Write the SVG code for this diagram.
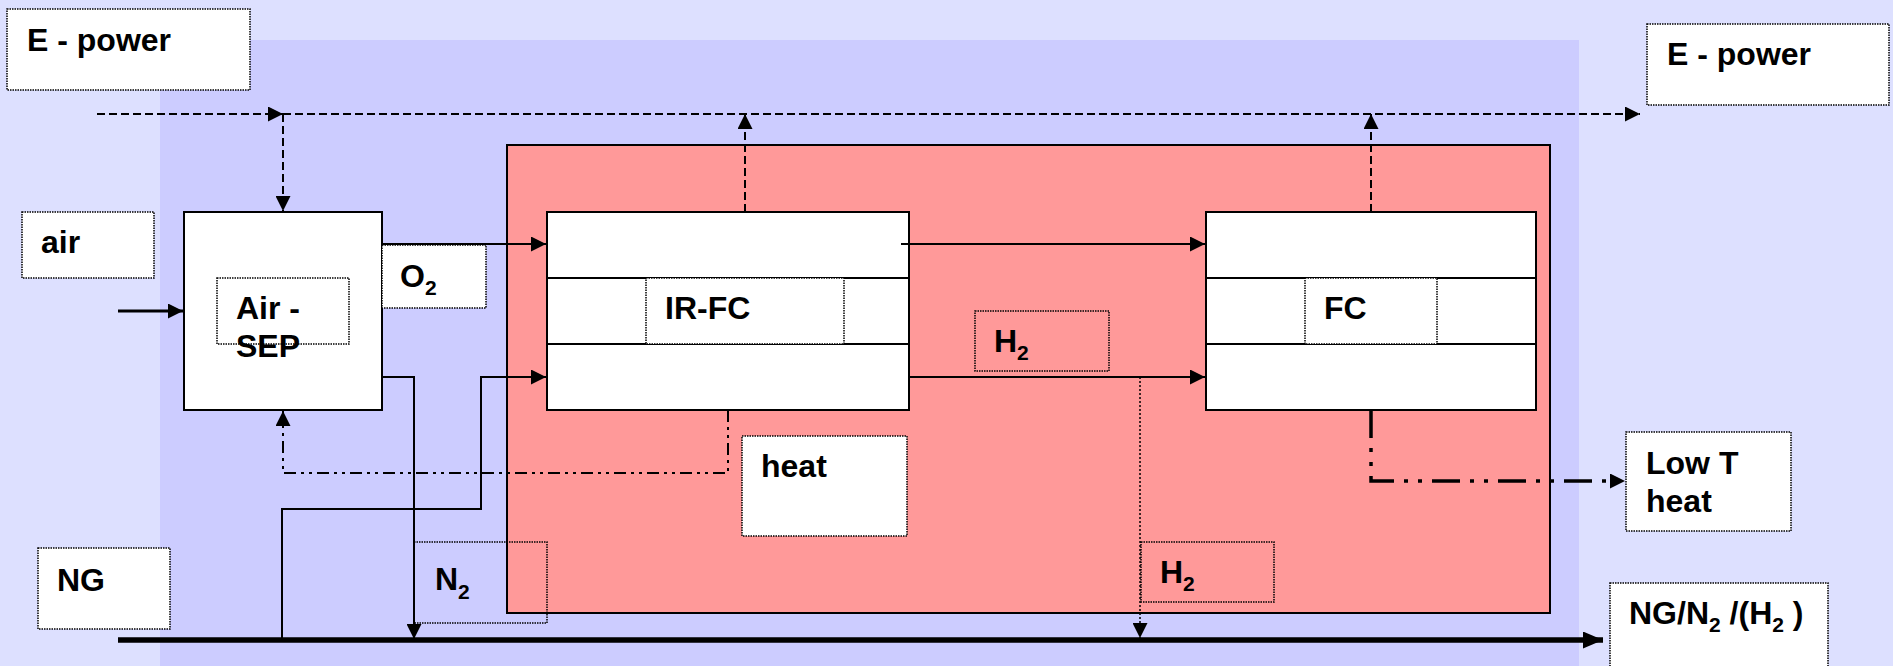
<svg xmlns="http://www.w3.org/2000/svg" width="1893" height="666" viewBox="0 0 1893 666">
<style>
  .lbl { fill: #fff; stroke: #000; stroke-width: 1.5; stroke-dasharray: 1.5 1; }
  .lbl-clear { fill: none; stroke: #000; stroke-width: 1.5; stroke-dasharray: 1.5 1; }
  .unit { fill: #fff; stroke: #000; stroke-width: 2; }
  .div { stroke: #000; stroke-width: 2; }
  text { font-family: "Liberation Sans", Arial, sans-serif; font-weight: bold; font-size: 32px; fill: #000; }
  .sub { font-size: 21px; }
  .solid { fill: none; stroke: #000; stroke-width: 2; }
  .solid-in { fill: none; stroke: #000; stroke-width: 3; }
  .dash { fill: none; stroke: #000; stroke-width: 2; stroke-dasharray: 8 4; }
  .dot { fill: none; stroke: #000; stroke-width: 1.5; stroke-dasharray: 2 2; }
  .dashdot { fill: none; stroke: #000; stroke-width: 2; stroke-dasharray: 12 5 3 5 3 5; }
  .dashdot-thick { fill: none; stroke: #000; stroke-width: 3.5; stroke-dasharray: 28 10 4 10 4 10; }
  .thick { fill: none; stroke: #000; stroke-width: 5.5; }
</style>
<defs>
  <marker id="arr" markerUnits="userSpaceOnUse" markerWidth="15" markerHeight="15" refX="15" refY="7.5" orient="auto">
    <path d="M0,0 L15,7.5 L0,15 z" fill="#000"/>
  </marker>
  <marker id="arr-big" markerUnits="userSpaceOnUse" markerWidth="20" markerHeight="17" refX="20" refY="8.5" orient="auto">
    <path d="M0,0 L20,8.5 L0,17 z" fill="#000"/>
  </marker>
</defs>

<!-- backgrounds -->
<rect x="0" y="0" width="1893" height="666" fill="#DDE0FF"/>
<rect x="160" y="40" width="1419" height="626" fill="#CCCCFF"/>
<rect id="hot-zone" x="507" y="145" width="1043" height="468" fill="#FF9999" stroke="#000" stroke-width="2"/>

<g id="epower-in">
  <rect class="lbl" x="7" y="9" width="243" height="81"/>
  <text x="27" y="51">E - power</text>
</g>
<g id="epower-out">
  <rect class="lbl" x="1647" y="24" width="242" height="81"/>
  <text x="1667" y="65">E - power</text>
</g>
<g id="air">
  <rect class="lbl" x="22" y="212" width="132" height="66"/>
  <text x="41" y="253">air</text>
</g>
<g id="air-sep">
  <rect class="unit" x="184" y="212" width="198" height="198"/>
  <rect class="lbl" x="217" y="278" width="132" height="66"/>
  <text x="236" y="319">Air -</text>
  <text x="236" y="357">SEP</text>
</g>
<g id="o2">
  <rect class="lbl" x="382" y="245" width="104" height="63"/>
  <text x="400" y="287">O<tspan class="sub" dy="8">2</tspan></text>
</g>
<g id="ir-fc">
  <rect class="unit" x="547" y="212" width="362" height="198"/>
  <line class="div" x1="547" y1="278" x2="909" y2="278"/>
  <line class="div" x1="547" y1="344" x2="909" y2="344"/>
  <rect class="lbl" x="646" y="278" width="198" height="66"/>
  <text x="665" y="319">IR-FC</text>
</g>
<g id="fc">
  <rect class="unit" x="1206" y="212" width="330" height="198"/>
  <line class="div" x1="1206" y1="278" x2="1536" y2="278"/>
  <line class="div" x1="1206" y1="344" x2="1536" y2="344"/>
  <rect class="lbl" x="1305" y="278" width="132" height="66"/>
  <text x="1324" y="319">FC</text>
</g>
<g id="h2-upper">
  <rect class="lbl-clear" x="975" y="311" width="134" height="60"/>
  <text x="994" y="352">H<tspan class="sub" dy="8">2</tspan></text>
</g>
<g id="h2-lower">
  <rect class="lbl-clear" x="1141" y="542" width="133" height="60"/>
  <text x="1160" y="583">H<tspan class="sub" dy="8">2</tspan></text>
</g>
<g id="heat">
  <rect class="lbl" x="742" y="436" width="165" height="100"/>
  <text x="761" y="477">heat</text>
</g>
<g id="n2">
  <rect class="lbl-clear" x="414" y="542" width="133" height="81"/>
  <text x="435" y="590">N<tspan class="sub" dy="9">2</tspan></text>
</g>
<g id="ng">
  <rect class="lbl" x="38" y="548" width="132" height="81"/>
  <text x="57" y="591">NG</text>
</g>
<g id="low-t-heat">
  <rect class="lbl" x="1626" y="432" width="165" height="99"/>
  <text x="1646" y="474">Low T</text>
  <text x="1646" y="512">heat</text>
</g>
<g id="ng-out">
  <rect class="lbl" x="1610" y="583" width="218" height="100"/>
  <text x="1629" y="624">NG/N<tspan class="sub" dy="8">2</tspan><tspan dy="-8"> /(H</tspan><tspan class="sub" dy="8">2</tspan><tspan dy="-8"> )</tspan></text>
</g>

<g id="connectors">
  <!-- electric power -->
  <path class="dash" d="M97,114 L283,114" marker-end="url(#arr)"/>
  <path class="dash" d="M283,114 L1640,114" marker-end="url(#arr)"/>
  <path class="dash" d="M283,114 L283,211" marker-end="url(#arr)"/>
  <path class="dash" d="M745,212 L745,114" marker-end="url(#arr)"/>
  <path class="dash" d="M1371,212 L1371,114" marker-end="url(#arr)"/>
  <!-- mass flows -->
  <path class="solid-in" d="M118,311 L183,311" marker-end="url(#arr)"/>
  <path class="solid" d="M382,244 L546,244" marker-end="url(#arr)"/>
  <path class="solid" d="M382,377 L414,377 L414,639" marker-end="url(#arr)"/>
  <path class="solid" d="M282,640 L282,509 L481,509 L481,377 L546,377" marker-end="url(#arr)"/>
  <path class="solid" d="M901,244 L1205,244" marker-end="url(#arr)"/>
  <path class="solid" d="M909,377 L1205,377" marker-end="url(#arr)"/>
  <path class="dot" d="M1140,377 L1140,638" marker-end="url(#arr)"/>
  <!-- heat -->
  <path class="dashdot" d="M728,410 L728,473 L283,473 L283,411" marker-end="url(#arr)"/>
  <path class="dashdot-thick" d="M1371,410 L1371,481 L1625,481" marker-end="url(#arr)"/>
  <!-- NG main line -->
  <path class="thick" d="M118,640 L1603,640" marker-end="url(#arr-big)"/>
</g>
</svg>
